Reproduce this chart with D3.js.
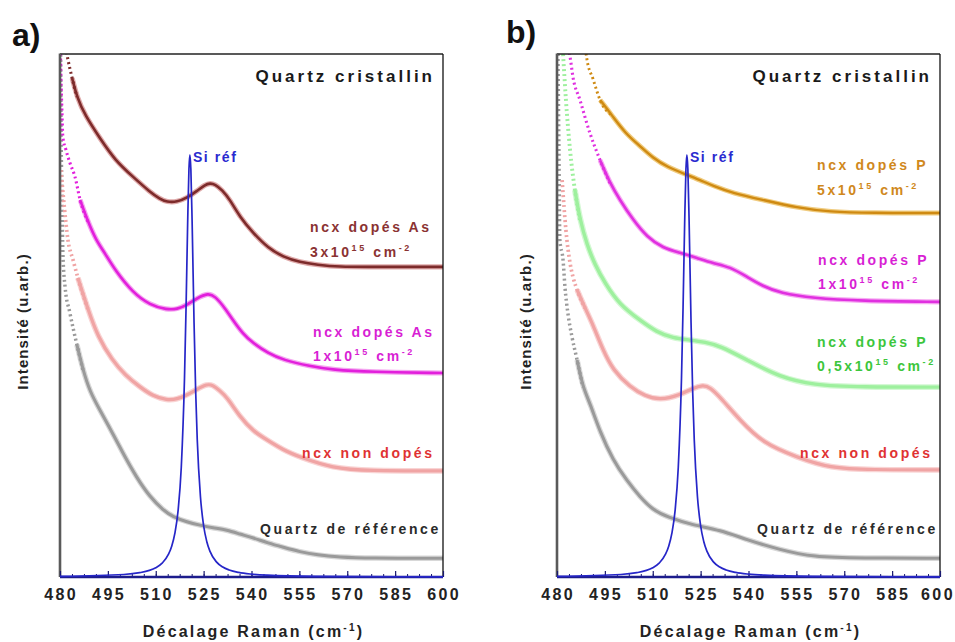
<!DOCTYPE html>
<html><head><meta charset="utf-8">
<script src="https://cdn.jsdelivr.net/npm/d3@7"></script>
<style>
body{margin:0;background:#fff}
svg{display:block}
text{font-family:"Liberation Sans",Arial,sans-serif;font-weight:bold}
</style>
</head><body>
<svg id="c" width="955" height="642"></svg>
<script>
// ---------- DATA (wavenumber cm-1, intensity arb. units 0..100) ----------
const xTicks = [480, 495, 510, 525, 540, 555, 570, 585, 600];

const siRef = [[480,0.12],[500,0.48],[505,0.83],[508,1.26],[510,1.77],[512,2.64],[514,4.36],[515,5.89],[516,8.38],[517,12.7],[518,21.0],[519,37.9],[519.5,51.6],[520,67.8],[520.4,78.0],[520.7,80.7],[521,78.0],[521.4,67.8],[522,48.6],[522.5,35.6],[523,26.3],[524,15.4],[525,9.8],[526,6.74],[527,4.89],[529,2.89],[531,1.9],[533,1.34],[536,0.87],[540,0.55],[545,0.35],[560,0.13],[600,0.03]];

// panel a
const asHigh = [[480.5,106],[482.5,98.9],[483.8,95.4],[485.3,91.8],[487.8,88.3],[492.5,83.9],[497.2,79.7],[502.9,76.5],[508.2,73.6],[511.3,72.3],[513.5,71.7],[516.7,71.7],[519.8,72.5],[522.9,73.8],[525.4,75.0],[527.0,75.3],[528.6,75.1],[530.8,74.0],[533.3,72.1],[536.4,68.8],[540.5,65.8],[545.2,62.9],[549.9,61.2],[555.2,60.2],[560.5,59.7],[567.7,59.3],[576.2,59.3],[586.5,59.3],[600,59.3]];
const asLow = [[480.1,102],[480.3,95.6],[480.6,89.3],[480.9,84.1],[481.9,81.6],[483.1,79.2],[484.7,76.5],[486.3,72.1],[488.8,67.9],[491.3,64.4],[494.1,61.9],[497.2,58.7],[502.9,54.3],[508.2,52.0],[513.5,51.1],[516.7,51.2],[519.8,52.0],[522.9,53.3],[526.4,54.3],[528.6,53.7],[531.7,51.4],[534.2,49.1],[537.3,46.5],[540.5,44.7],[545.2,42.8],[549.9,41.5],[558.3,40.3],[565.5,39.6],[577.1,39.2],[600,39.0]];
const undopedA = [[480.3,77.8],[481.3,71.1],[482.5,64.4],[484.1,60.6],[485.6,57.2],[488.8,51.1],[491.9,45.9],[496.3,41.5],[500.4,38.6],[505.1,36.3],[509.1,34.6],[513.5,33.8],[516.7,34.0],[519.8,34.8],[522.9,35.9],[526.1,36.9],[527.9,36.7],[530.1,35.6],[532.3,34.4],[536.4,30.6],[540.5,27.9],[544.9,26.2],[549.9,24.3],[555.2,22.9],[565.5,20.8],[576.2,20.3],[600,20.3]];
const quartzA = [[480.2,100.8],[480.3,87.4],[480.6,74.0],[480.9,62.0],[481.6,55.4],[483.1,50.5],[485.3,44.4],[487.2,39.6],[489.4,35.4],[492.5,31.9],[496.3,27.7],[499.7,23.7],[504.1,18.9],[508.2,15.3],[512.3,12.8],[515.4,11.5],[519.8,10.5],[523.9,9.9],[527.9,9.4],[532.3,9.0],[536.4,8.2],[540.5,7.5],[545.2,6.5],[549.9,5.7],[555.2,4.8],[560.5,4.2],[567.7,3.8],[576.2,3.6],[600,3.6]];

// panel b
const pHigh = [[488.5,103],[489.4,98.9],[491.3,95.2],[493.5,91.2],[497.2,88.3],[501.3,84.9],[506.0,82.4],[510.1,80.1],[514.5,78.4],[520.7,76.9],[524.8,75.9],[528.9,74.8],[535.1,73.4],[544.5,72.1],[555.2,70.6],[565.5,69.8],[578.1,69.6],[600,69.6]];
const pMid = [[482.8,102],[484.1,99.4],[485.0,95.6],[487.2,91.2],[490.3,84.9],[493.5,79.7],[496.6,75.3],[499.7,72.1],[503.8,68.3],[508.2,65.0],[513.2,62.9],[518.5,62.0],[523.9,61.0],[528.9,60.0],[534.2,59.3],[539.5,57.4],[544.5,55.6],[549.9,54.3],[560.2,53.3],[574.9,52.8],[600,52.6]];
const pLow = [[481.9,100],[482.8,91.2],[484.1,81.6],[485.6,74.0],[487.2,68.3],[489.4,63.5],[491.9,59.7],[495.0,56.2],[499.7,52.0],[506.0,49.1],[511.3,46.8],[516.3,45.7],[521.7,45.3],[526.4,44.9],[531.1,44.2],[539.5,41.5],[549.9,38.2],[560.2,36.7],[574.9,36.3],[600,36.3]];
const undopedB = [[481.6,75.9],[482.8,66.3],[484.1,60.0],[485.0,57.4],[486.3,54.9],[488.8,51.4],[491.3,48.2],[494.4,43.4],[497.5,39.6],[502.9,36.3],[507.6,34.6],[512.3,33.8],[518.5,34.8],[522.6,36.1],[525.7,36.7],[527.9,36.3],[531.1,34.4],[537.3,30.0],[544.5,25.6],[555.2,22.9],[565.5,20.8],[578.1,20.5],[600,20.5]];
const quartzB = [[480.3,100],[480.6,81.6],[480.9,64.4],[481.9,60.6],[482.5,55.4],[483.4,50.5],[484.7,45.9],[486.3,41.5],[488.1,36.3],[490.3,33.3],[493.5,27.7],[497.5,22.4],[501.9,18.4],[506.0,15.3],[510.1,12.8],[514.5,11.5],[522.6,9.9],[531.1,9.0],[539.5,7.1],[549.9,5.2],[560.2,3.8],[574.9,3.6],[600,3.6]];

const labelTextsA = ["ncx dopés As", "3x10^{15} cm^{-2}", "ncx dopés As", "1x10^{15} cm^{-2}", "ncx non dopés", "Quartz de référence"];
const labelTextsB = ["ncx dopés P", "5x10^{15} cm^{-2}", "ncx dopés P", "1x10^{15} cm^{-2}", "ncx dopés P", "0,5x10^{15} cm^{-2}", "ncx non dopés", "Quartz de référence"];

// ---------- DRAWING ----------
const svg = d3.select("#c");
svg.append("rect").attr("width", 955).attr("height", 642).attr("fill", "#fff");

function rich(sel, str, supSize) {
  const parts = str.split(/\^\{([^}]*)\}/);
  let raised = false;
  parts.forEach((p, i) => {
    if (p === "") return;
    const t = sel.append("tspan").text(p);
    if (i % 2 === 1) { t.attr("font-size", supSize).attr("dy", raised ? 0 : -6); raised = true; }
    else if (raised) { t.attr("dy", 6); raised = false; }
  });
}

function panel(o) {
  const x = d3.scaleLinear().domain([480, 600]).range([o.left, o.right]);
  const y = d3.scaleLinear().domain([0, 100]).range([o.bottom, o.top]);
  const g = svg.append("g");
  g.append("clipPath").attr("id", o.id).append("rect")
    .attr("x", o.left).attr("y", o.top).attr("width", o.right - o.left).attr("height", o.bottom - o.top);
  const plot = g.append("g").attr("clip-path", `url(#${o.id})`);
  const line = d3.line().x(d => x(d[0])).y(d => y(d[1])).curve(d3.curveBasis);
  const lineDots = d3.line().x(d => x(d[0])).y(d => y(d[1])).curve(d3.curveMonotoneX);
  const lineSi = d3.line().x(d => x(d[0])).y(d => y(d[1])).curve(d3.curveMonotoneX);

  // frame (under data)
  g.append("line").attr("x1", o.left).attr("x2", o.right).attr("y1", o.top).attr("y2", o.top).attr("stroke", "#222").attr("stroke-width", 1.3);
  g.append("line").attr("x1", o.right).attr("x2", o.right).attr("y1", o.top).attr("y2", o.bottom).attr("stroke", "#111").attr("stroke-width", 1.3);

  o.series.forEach(s => {
    const k = s.data.findIndex(d => d[0] >= s.cut);
    const solid = s.data.slice(Math.max(0, k - 1));
    const dotted = s.data.slice(0, k + 1);
    plot.append("path").attr("d", line(solid)).attr("fill", "none")
      .attr("stroke", s.halo).attr("stroke-width", s.w + 2.5).attr("stroke-linejoin", "round");
    plot.append("path").attr("d", line(solid)).attr("fill", "none")
      .attr("stroke", s.color).attr("stroke-width", s.w).attr("stroke-linejoin", "round");
    plot.append("path").attr("d", lineDots(dotted)).attr("fill", "none")
      .attr("stroke", s.color).attr("stroke-width", s.w + 0.5).attr("stroke-dasharray", "2,3");
  });

  // left axis (thick gray)
  g.append("line").attr("x1", o.left).attr("x2", o.left).attr("y1", o.top - 0.6).attr("y2", o.bottom).attr("stroke", "#5a5a5a").attr("stroke-width", 2.6);

  // bottom axis ticks inside
  const minor = d3.range(480, 600.1, 3.75);
  g.append("g").attr("transform", `translate(0,${o.bottom})`)
    .call(d3.axisBottom(x).tickValues(minor).tickSize(-3).tickFormat(""))
    .call(a => a.select(".domain").remove())
    .selectAll("line").attr("stroke", "#1a1a70").attr("stroke-width", 1);
  g.append("g").attr("transform", `translate(0,${o.bottom})`)
    .call(d3.axisBottom(x).tickValues(xTicks).tickSize(-6).tickFormat(""))
    .call(a => a.select(".domain").remove())
    .selectAll("line").attr("stroke", "#1a1a70").attr("stroke-width", 1.2);

  // Si reference (on top, not clipped)
  g.append("line").attr("x1", o.left).attr("x2", o.right).attr("y1", o.bottom).attr("y2", o.bottom).attr("stroke", "#1c1c8c").attr("stroke-width", 2.4);
  g.append("path").attr("d", lineSi(siRef)).attr("fill", "none").attr("stroke", "#2626c8").attr("stroke-width", 1.7);
  g.append("text").attr("x", x(520.7) + 3).attr("y", y(80.7) + 7).attr("fill", "#2a2ad0")
    .attr("font-size", 14).attr("letter-spacing", 1.6).text("Si réf");

  // tick labels
  const tl = g.append("g").attr("transform", `translate(0,${o.bottom + 23})`);
  xTicks.forEach(v => {
    const cx = Math.min(x(v) + 1.2, 938);
    tl.append("text").attr("x", cx).attr("text-anchor", "middle").attr("font-size", 16)
      .attr("letter-spacing", 2.4).attr("fill", "#222").text(v);
  });

  // axis titles
  const xt = g.append("text").attr("x", (o.left + o.right) / 2 + 2).attr("y", 637).attr("text-anchor", "middle")
    .attr("font-size", 16).attr("letter-spacing", 2.2).attr("fill", "#222");
  rich(xt, "Décalage Raman (cm^{-1})", 10);
  g.append("text").attr("transform", `translate(${o.yTitleX},${(o.top + o.bottom) / 2 + 6}) rotate(-90)`)
    .attr("text-anchor", "middle").attr("font-size", 15).attr("letter-spacing", 1.1).attr("fill", "#222")
    .text("Intensité (u.arb.)");

  // panel tag
  g.append("text").attr("x", o.tagX).attr("y", o.tagY).attr("font-size", 32).attr("fill", "#111").text(o.tag);

  // title
  g.append("text").attr("x", o.right - 8).attr("y", 82).attr("text-anchor", "end").attr("font-size", 17)
    .attr("letter-spacing", 3).attr("fill", "#1a1a1a").text("Quartz cristallin");

  // labels
  o.labels.forEach(l => {
    const t = g.append("text").attr("x", l.x).attr("y", l.y).attr("font-size", 14)
      .attr("letter-spacing", 2.6).attr("fill", l.color);
    rich(t, l.text, 9);
  });
}

const cBrown = "#8a3232", cMag = "#d81fd4", cRed = "#e03232", cDark = "#2a2a2a", cOr = "#d0881c", cGreen = "#3cc63c";

panel({
  id: "clipA", left: 60, right: 443, top: 54, bottom: 577, tag: "a)", tagX: 12, tagY: 46, yTitleX: 28,
  series: [
    { data: quartzA, color: "#9a9a9a", halo: "#d8d8d8", w: 3, cut: 487.2 },
    { data: undopedA, color: "#f0a4a4", halo: "#f9d4d4", w: 3.2, cut: 488.8 },
    { data: asLow, color: "#e21fdc", halo: "#f4a6f0", w: 2.6, cut: 488.8 },
    { data: asHigh, color: "#7d2b2b", halo: "#dfaaaa", w: 2.6, cut: 485.3 }
  ],
  labels: [
    { x: 310, y: 232, color: cBrown, text: labelTextsA[0] },
    { x: 310, y: 257, color: cBrown, text: labelTextsA[1] },
    { x: 313, y: 337, color: cMag, text: labelTextsA[2] },
    { x: 313, y: 361, color: cMag, text: labelTextsA[3] },
    { x: 302, y: 458, color: cRed, text: labelTextsA[4] },
    { x: 260, y: 534, color: cDark, text: labelTextsA[5] }
  ]
});

panel({
  id: "clipB", left: 557, right: 940, top: 54, bottom: 577, tag: "b)", tagX: 506, tagY: 43, yTitleX: 531,
  series: [
    { data: quartzB, color: "#9a9a9a", halo: "#d8d8d8", w: 3, cut: 488.1 },
    { data: undopedB, color: "#f0a4a4", halo: "#f9d4d4", w: 3.2, cut: 488.8 },
    { data: pLow, color: "#9ef09e", halo: "#d4f8d4", w: 3.4, cut: 487.2 },
    { data: pMid, color: "#e030e0", halo: "#f6aaf2", w: 2.6, cut: 496.6 },
    { data: pHigh, color: "#cf8a12", halo: "#f0cc80", w: 2.4, cut: 496 }
  ],
  labels: [
    { x: 817, y: 170, color: cOr, text: labelTextsB[0] },
    { x: 817, y: 195, color: cOr, text: labelTextsB[1] },
    { x: 818, y: 265, color: cMag, text: labelTextsB[2] },
    { x: 818, y: 289, color: cMag, text: labelTextsB[3] },
    { x: 817, y: 347, color: cGreen, text: labelTextsB[4] },
    { x: 817, y: 371, color: cGreen, text: labelTextsB[5] },
    { x: 800, y: 458, color: cRed, text: labelTextsB[6] },
    { x: 757, y: 534, color: cDark, text: labelTextsB[7] }
  ]
});
</script>
</body></html>
